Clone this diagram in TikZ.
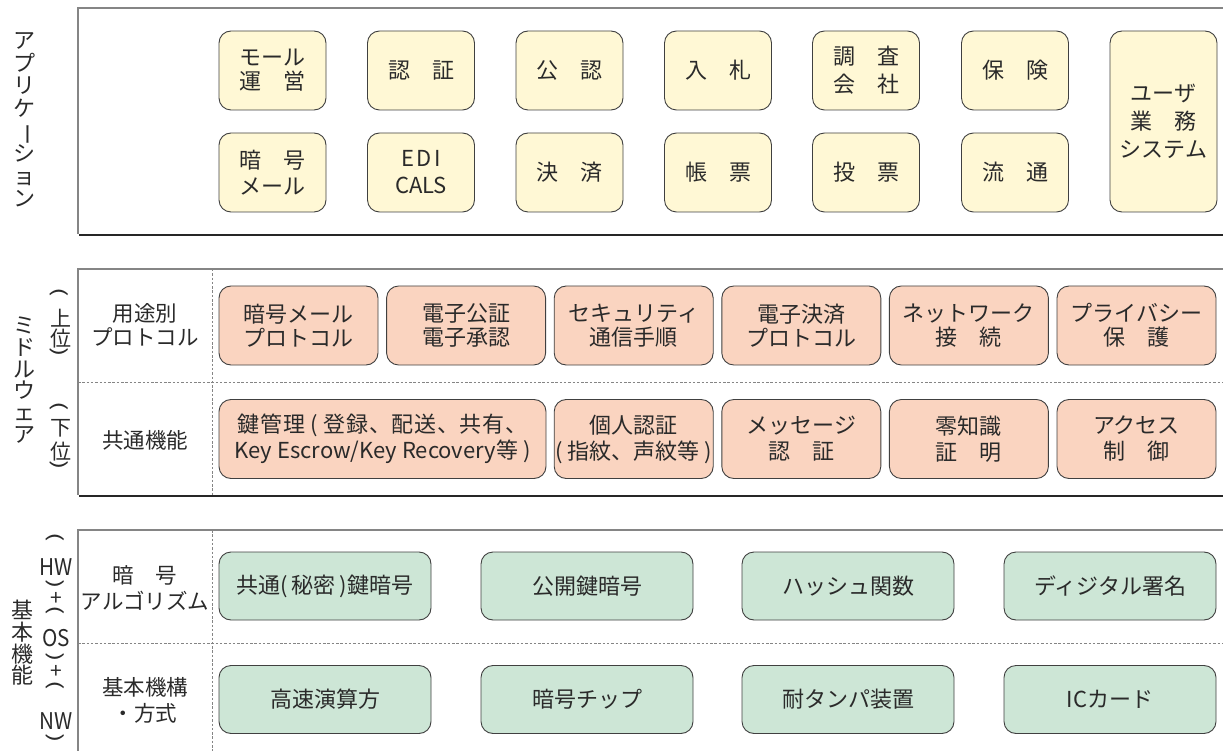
\documentclass[tikz,border=0pt]{standalone}
\usepackage{fontspec}
\setmainfont{Noto Sans CJK JP}
\usepackage{graphicx}
\definecolor{yel}{HTML}{FFF8D5}
\definecolor{pnk}{HTML}{FAD4C0}
\definecolor{grn}{HTML}{CDE6D6}
\definecolor{bord}{HTML}{404040}
\definecolor{txt}{HTML}{2A2A2A}
\definecolor{frm}{HTML}{858585}
\newcommand{\boxfont}[1]{\fontsize{22}{#1}\selectfont}
\newcommand{\vbar}{\smash{\rotatebox[origin=c]{-90}{ー}}}
\newcommand{\vlp}{\scalebox{0.65}[1]{\rotatebox[origin=c]{-90}{\fontsize{28}{28}\selectfont(}}}
\newcommand{\vrp}{\scalebox{0.65}[1]{\rotatebox[origin=c]{-90}{\fontsize{28}{28}\selectfont)}}}
\newcommand{\narrow}[1]{\scalebox{0.9}[1]{#1}}
\tikzset{
  basebox/.style={draw=bord, line width=0.9pt, rounded corners=12pt, align=center, inner sep=0pt, text=txt},
  appbox/.style={basebox, fill=yel, minimum width=107pt, minimum height=79pt, font=\boxfont{#1}},
  appbox/.default=24,
  midbox/.style={basebox, fill=pnk, minimum width=159pt, minimum height=79pt, font=\boxfont{#1}},
  midbox/.default=23.5,
  basbox/.style={basebox, fill=grn, minimum width=212pt, minimum height=68pt, font=\boxfont{24}},
  rowlabel/.style={align=center, text=txt, inner sep=0pt, font=\fontsize{21.5}{#1}\selectfont},
  rowlabel/.default=23.5,
  vlabel/.style={align=center, text=txt, inner sep=0pt, font=\boxfont{#1}},
  vlabel/.default=21.7,
  vsmall/.style={text=txt, inner sep=0pt, font=\fontsize{21}{22}\selectfont},
  vlatin/.style={text=txt, inner sep=0pt, font=\fontsize{23}{23}\selectfont},
  frameline/.style={draw=frm, line width=1.2pt},
  shadowline/.style={draw=black!85, line width=2.6pt},
  sepline/.style={draw=frm, line width=0.8pt, dash pattern=on 2.5pt off 1.8pt},
}
\begin{document}
\begin{tikzpicture}[x=1pt,y=-1pt]
\useasboundingbox (0,0) rectangle (1223,751);
% ---------- application frame ----------
\draw[frameline] (1223,8) -- (78,8) -- (78,234);
\draw[shadowline] (79,235) -- (1223,235);
\node[vlabel=22.6] (applbl) at (24,120) {ア\\プ\\リ\\ケ\\\vbar\\シ\\ョ\\ン};
\node[appbox] (mall) at (272.5,70.5) {モール\\運　営};
\node[appbox] (auth) at (421,70.5) {認　証};
\node[appbox] (notary) at (569.5,70.5) {公　認};
\node[appbox] (bid) at (718,70.5) {入　札};
\node[appbox=28] (survey) at (866,70.5) {調　査\\会　社};
\node[appbox] (insur) at (1015,70.5) {保　険};
\node[appbox=26] (cmail) at (272.5,172.5) {暗　号\\メール};
\node[appbox=27] (edi) at (421,172.5) {\addfontfeature{LetterSpace=12}EDI\\CALS};
\node[appbox] (settle) at (569.5,172.5) {決　済};
\node[appbox] (ledger) at (718,172.5) {帳　票};
\node[appbox] (vote) at (866,172.5) {投　票};
\node[appbox] (dist) at (1015,172.5) {流　通};
\node[appbox=28, minimum height=181pt] (user) at (1163.5,121.5) {ユーザ\\業　務\\システム};
% ---------- middleware frame ----------
\draw[frameline] (1223,269) -- (78,269) -- (78,495);
\draw[shadowline] (79,496) -- (1223,496);
\draw[sepline] (212,269) -- (212,495);
\draw[sepline] (78,382) -- (1223,382);
\node[vlabel] (midlbl) at (24,380) {ミ\\ド\\ル\\ウ\\ェ\\ア};
\node[vsmall] (u1) at (59,294) {\vlp};
\node[vsmall] (u2) at (61,318) {上};
\node[vsmall] (u3) at (61,339) {位};
\node[vsmall] (u4) at (59,354) {\vrp};
\node[vsmall] (l1) at (59,408) {\vlp};
\node[vsmall] (l2) at (61,428) {下};
\node[vsmall] (l3) at (61,452) {位};
\node[vsmall] (l4) at (59,467) {\vrp};
\node[rowlabel] (purpose) at (145,325) {用途別\\プロトコル};
\node[rowlabel] (common) at (145,440) {共通機能};
\node[midbox] (m1) at (298.5,325.5) {暗号メール\\プロトコル};
\node[midbox] (m2) at (466.1,325.5) {電子公証\\電子承認};
\node[midbox] (m3) at (633.7,325.5) {セキュリティ\\通信手順};
\node[midbox] (m4) at (801.3,325.5) {電子決済\\プロトコル};
\node[midbox] (m5) at (968.9,325.5) {ネットワーク\\接　続};
\node[midbox] (m6) at (1136.5,325.5) {プライバシー\\保　護};
\node[midbox=26, minimum width=327pt] (k1) at (382.5,439) {\addfontfeature{LetterSpace=3}鍵管理 ( 登録、配送、共有、\\Key Escrow/Key Recovery等 )};
\node[midbox=26] (k2) at (633.7,439) {個人認証\\( 指紋、声紋等 )};
\node[midbox=26] (k3) at (801.3,439) {メッセージ\\認　証};
\node[midbox=26] (k4) at (968.9,439) {零知識\\証　明};
\node[midbox=26] (k5) at (1136.5,439) {アクセス\\制　御};
% ---------- basic functions frame ----------
\draw[frameline] (1223,530) -- (78,530) -- (78,751);
\draw[sepline] (212,530) -- (212,751);
\draw[sepline] (78,643) -- (1223,643);
\node[vlabel] (baslbl) at (23,643) {基\\本\\機\\能};
\node[vsmall] (p1) at (55,539) {\vlp};
\node[vlatin] (hw) at (56,567) {\narrow{HW}};
\node[vsmall] (p2) at (55,586) {\vrp};
\node[vsmall] (plus1) at (56,599) {+};
\node[vsmall] (p3) at (55,612) {\vlp};
\node[vlatin] (os) at (56,638) {\narrow{OS}};
\node[vsmall] (p4) at (55,659) {\vrp};
\node[vsmall] (plus2) at (56,672) {+};
\node[vsmall] (p5) at (55,687) {\vlp};
\node[vlatin] (nw) at (56,721) {\narrow{NW}};
\node[vsmall] (p6) at (55,740) {\vrp};
\node[rowlabel=26] (algo) at (145,588) {暗　号\\アルゴリズム};
\node[rowlabel=26] (mech) at (145,700) {基本機構\\・方式};
\node[basbox] (b1) at (325,586) {共通(\,秘密\,)鍵暗号};
\node[basbox] (b2) at (587,586) {公開鍵暗号};
\node[basbox] (b3) at (848,586) {ハッシュ関数};
\node[basbox] (b4) at (1110,586) {ディジタル署名};
\node[basbox] (c1) at (325,699.5) {高速演算方};
\node[basbox] (c2) at (587,699.5) {暗号チップ};
\node[basbox] (c3) at (848,699.5) {耐タンパ装置};
\node[basbox] (c4) at (1110,699.5) {ICカード};
\end{tikzpicture}
\end{document}
